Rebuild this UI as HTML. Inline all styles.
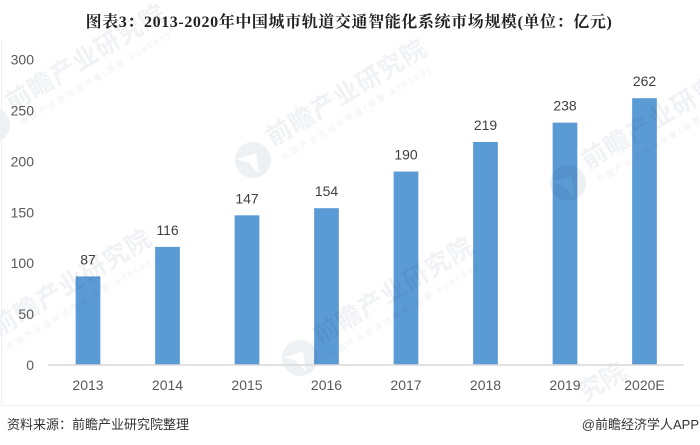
<!DOCTYPE html>
<html lang="zh">
<head>
<meta charset="utf-8">
<style>
html,body{margin:0;padding:0;background:#fff;width:700px;height:445px;overflow:hidden;}
svg{display:block;overflow:hidden;}
text{font-family:"Liberation Sans","Noto Sans CJK SC",sans-serif;}
.serif{font-family:"Liberation Serif","Noto Serif CJK SC",serif;}
</style>
</head>
<body>
<svg id="chart" xmlns="http://www.w3.org/2000/svg" width="700" height="445" viewBox="0 0 700 445"></svg>
<script>
const categories = ["2013","2014","2015","2016","2017","2018","2019","2020E"];
const seriesValues = [87,116,147,154,190,219,238,262];
const tickLabels = [0,50,100,150,200,250,300];
const watermarkAnchors = [[-8,125],[253,160],[568,183],[-22,350],[300,358]];
const svg = document.getElementById('chart');
const NS = 'http://www.w3.org/2000/svg';
const plotLeft = 48, plotRight = 684, baseY = 365, topY = 59.5, axisMax = 300, barW = 24.7;
function yScale(v){ return baseY - (v / axisMax) * (baseY - topY); }
function xScale(i){ return 88 + i * 79.5; }
function make(tag, attrs, txt){
  const el = document.createElementNS(NS, tag);
  for (const k in attrs) el.setAttribute(k, attrs[k]);
  if (txt !== undefined) el.textContent = txt;
  svg.appendChild(el);
  return el;
}
const title = make('text', {x:349, y:27, 'font-size':16, 'font-weight':'bold', fill:'#222222', 'text-anchor':'middle', 'letter-spacing':'0.6', 'class':'serif'}, '图表3：2013-2020年中国城市轨道交通智能化系统市场规模(单位：亿元)');


categories.forEach(function(c, i){
  const v = seriesValues[i];
  const bar = make('rect', {x:xScale(i) - barW / 2, y:yScale(v), width:barW, height:baseY - yScale(v), fill:'#5b9bd5'});
  
  
});
watermarkAnchors.forEach(function(p){
  const g = make('g', {transform:'translate(' + p[0] + ' ' + p[1] + ') rotate(-31)', style:'mix-blend-mode:multiply'});
  
  
  const c = document.createElementNS(NS, 'circle');
  c.setAttribute('cx', 0); c.setAttribute('cy', 0); c.setAttribute('r', 18); c.setAttribute('fill', '#eef1f4');
  g.appendChild(c);
  const notch = document.createElementNS(NS, 'path');
  notch.setAttribute('d', 'M-14 -9L6 -4L-2 15L-5 0Z');
  notch.setAttribute('fill', '#ffffff');
  g.appendChild(notch);
  const a = document.createElementNS(NS, 'text');
  a.setAttribute('x', 24); a.setAttribute('y', -1);
  a.setAttribute('font-size', 25); a.setAttribute('letter-spacing', '1'); a.setAttribute('font-weight', 'bold'); a.setAttribute('fill', '#f0f2f5');
  a.textContent = '前瞻产业研究院';
  g.appendChild(a);
  const b = document.createElementNS(NS, 'text');
  b.setAttribute('x', 26); b.setAttribute('y', 16);
  b.setAttribute('font-size', 8); b.setAttribute('textLength', '172'); b.setAttribute('fill', '#eef0f3');
  b.textContent = '中国产业咨询领导者(股票 839599)';
  g.appendChild(b);
});
const fragment = make('text', {x:0, y:0, transform:'translate(585 402) rotate(-31)', 'font-size':25, 'font-weight':'bold', fill:'#f0f2f5'}, '究院');


const cover = make('rect', {x:0, y:406, width:700, height:39, fill:'#ffffff'});


const frame = make('path', {d:'M1.5 40V405.5H700', fill:'none', stroke:'#eef0f4', 'stroke-width':1});


tickLabels.forEach(function(t){
  const el = make('text', {x:34, y:yScale(t) + 5, 'font-size':14, fill:'#595959', 'text-anchor':'end'}, String(t));
  
  
});
categories.forEach(function(c, i){
  const v = seriesValues[i];
  const val = make('text', {x:xScale(i), y:yScale(v) - 12, 'font-size':14, fill:'#404040', 'text-anchor':'middle'}, String(v));
  
  
  const lab = make('text', {x:xScale(i), y:390, 'font-size':14, fill:'#595959', 'text-anchor':'middle'}, c);
  
  
});
const axis = make('line', {x1:plotLeft, x2:plotRight, y1:baseY, y2:baseY, stroke:'#d9d9d9', 'stroke-width':1.5});


const source = make('text', {x:7, y:429, 'font-size':13, fill:'#333333'}, '资料来源：前瞻产业研究院整理');


const credit = make('text', {x:699, y:429, 'font-size':13, fill:'#333333', 'text-anchor':'end'}, '@前瞻经济学人APP');


</script>
</body>
</html>
